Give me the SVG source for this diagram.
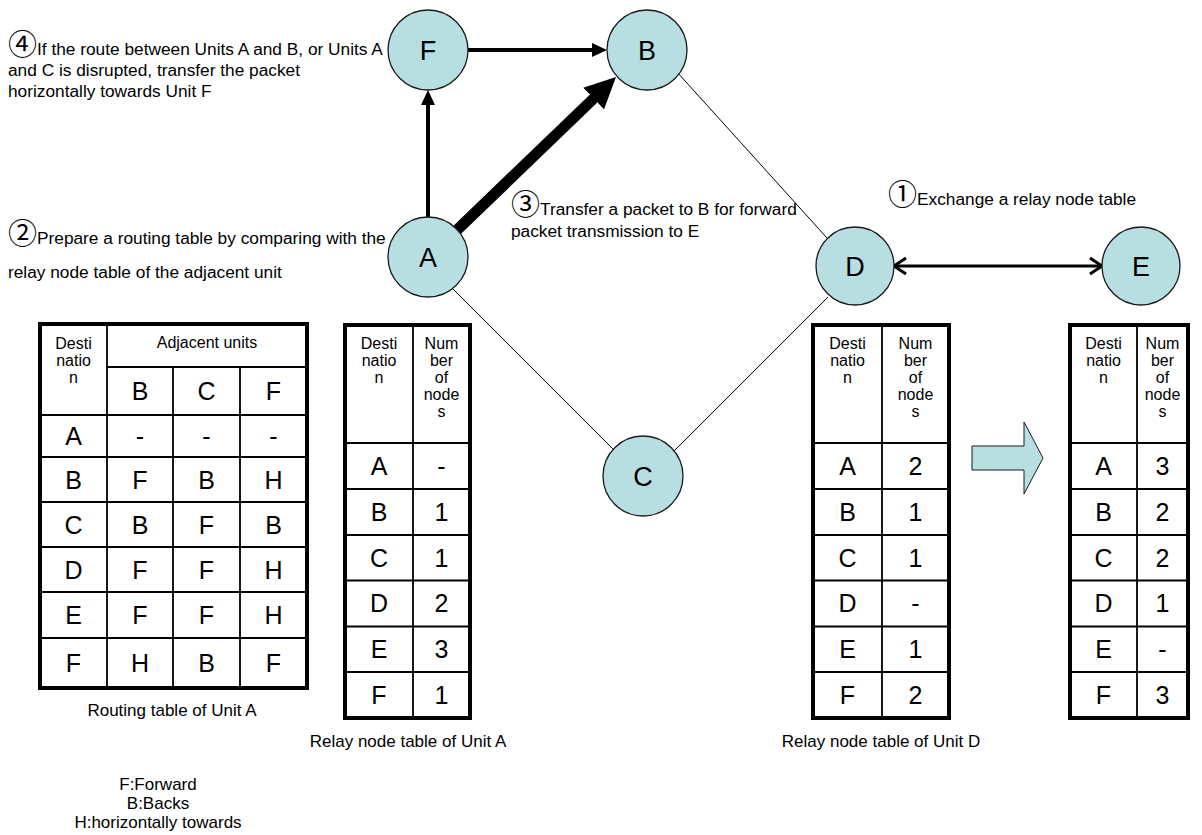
<svg xmlns="http://www.w3.org/2000/svg" width="1202" height="835" viewBox="0 0 1202 835">
<style>
text{font-family:"Liberation Sans",Arial,sans-serif;fill:#000}
.note{font-size:17.3px}
.circ{font-family:"Noto Sans CJK JP","DejaVu Sans",sans-serif;font-size:29px}
.node circle{fill:#b7dfe1;stroke:#1a1a1a;stroke-width:1.3}
.nl{font-size:27px;text-anchor:middle}
.outer{fill:#fff;stroke:#000;stroke-width:4}
.ln{stroke:#000;stroke-width:1.8;fill:none}
.th{font-size:16px;text-anchor:middle}
.tv{font-size:25px;text-anchor:middle}
.cap{font-size:17px;text-anchor:middle}
.thin{stroke:#000;stroke-width:1;fill:none}
.arr{stroke:#000;stroke-width:4;fill:none}
</style>
<defs>
<marker id="ah" markerUnits="userSpaceOnUse" markerWidth="16" markerHeight="14" viewBox="0 0 16 14" refX="2" refY="7" orient="auto"><path d="M0,0 L15,7 L0,14 z" fill="#000"/></marker>
<marker id="ahBig" markerUnits="userSpaceOnUse" markerWidth="32" markerHeight="30" viewBox="0 0 32 30" refX="2" refY="15" orient="auto"><path d="M0,0 L31,15 L0,30 z" fill="#000"/></marker>
<marker id="chev" markerUnits="userSpaceOnUse" markerWidth="16" markerHeight="20" viewBox="0 0 16 20" refX="13" refY="10" orient="auto-start-reverse"><path d="M1,2 L13,10 L1,18" fill="none" stroke="#000" stroke-width="3"/></marker>
</defs>

<g id="notes">
<text class="note" x="8" y="55"><tspan class="circ">④</tspan><tspan x="37">If the route between Units A and B, or Units A</tspan></text>
<text class="note" x="8" y="76">and C is disrupted, transfer the packet</text>
<text class="note" x="8" y="97">horizontally towards Unit F</text>
<text class="note" x="8" y="244"><tspan class="circ">②</tspan><tspan x="37">Prepare a routing table by comparing with the</tspan></text>
<text class="note" x="8" y="278">relay node table of the adjacent unit</text>
<text class="note" x="511" y="215"><tspan class="circ">③</tspan><tspan x="540">Transfer a packet to B for forward</tspan></text>
<text class="note" x="511" y="237">packet transmission to E</text>
<text class="note" x="888" y="205"><tspan class="circ">①</tspan><tspan x="917">Exchange a relay node table</tspan></text>
</g>

<g id="connectors">
<line class="thin" x1="677" y1="72" x2="827" y2="238"/>
<line class="thin" x1="453" y1="289" x2="613" y2="449"/>
<line class="thin" x1="672" y1="453" x2="828" y2="297"/>
<line class="arr" x1="468" y1="50" x2="594" y2="50" marker-end="url(#ah)"/>
<line class="arr" x1="428" y1="217" x2="428" y2="103" marker-end="url(#ah)"/>
<line stroke="#000" stroke-width="11" x1="457" y1="230" x2="595.1" y2="97.1" marker-end="url(#ahBig)"/>
<line stroke="#000" stroke-width="3" x1="894" y1="266" x2="1102" y2="266" marker-start="url(#chev)" marker-end="url(#chev)"/>
</g>

<g id="node-F" class="node"><circle cx="428" cy="50" r="40"/><text class="nl" x="428" y="60">F</text></g>
<g id="node-B" class="node"><circle cx="647" cy="50" r="40"/><text class="nl" x="647" y="60">B</text></g>
<g id="node-A" class="node"><circle cx="428" cy="257" r="40"/><text class="nl" x="428" y="267">A</text></g>
<g id="node-C" class="node"><circle cx="643" cy="476" r="40"/><text class="nl" x="643" y="486">C</text></g>
<g id="node-D" class="node"><circle cx="855" cy="266" r="39"/><text class="nl" x="855" y="276">D</text></g>
<g id="node-E" class="node"><circle cx="1141" cy="266" r="39"/><text class="nl" x="1141" y="276">E</text></g>

<g id="routing-table">
<rect class="outer" x="40" y="324" width="267" height="364"/>
<path class="ln" d="M107,324V688 M173,367V688 M240,367V688 M107,367H307 M40,415H307 M40,457H307 M40,502H307 M40,547H307 M40,592H307 M40,638H307"/>
<text class="th" x="73.5" y="349">Desti</text>
<text class="th" x="73.5" y="366">natio</text>
<text class="th" x="73.5" y="383">n</text>
<text class="th" x="207" y="348">Adjacent units</text>
<text class="tv" x="140" y="400">B</text><text class="tv" x="206.5" y="400">C</text><text class="tv" x="273.5" y="400">F</text>
<text class="tv" x="73.5" y="445">A</text><text class="tv" x="140" y="445">-</text><text class="tv" x="206.5" y="445">-</text><text class="tv" x="273.5" y="445">-</text>
<text class="tv" x="73.5" y="489">B</text><text class="tv" x="140" y="489">F</text><text class="tv" x="206.5" y="489">B</text><text class="tv" x="273.5" y="489">H</text>
<text class="tv" x="73.5" y="534">C</text><text class="tv" x="140" y="534">B</text><text class="tv" x="206.5" y="534">F</text><text class="tv" x="273.5" y="534">B</text>
<text class="tv" x="73.5" y="579">D</text><text class="tv" x="140" y="579">F</text><text class="tv" x="206.5" y="579">F</text><text class="tv" x="273.5" y="579">H</text>
<text class="tv" x="73.5" y="624">E</text><text class="tv" x="140" y="624">F</text><text class="tv" x="206.5" y="624">F</text><text class="tv" x="273.5" y="624">H</text>
<text class="tv" x="73.5" y="672">F</text><text class="tv" x="140" y="672">H</text><text class="tv" x="206.5" y="672">B</text><text class="tv" x="273.5" y="672">F</text>
<text class="cap" x="172" y="716">Routing table of Unit A</text>
</g>

<g id="relay-table-A">
<rect class="outer" x="345" y="325" width="125" height="393"/>
<path class="ln" d="M413,325V718 M345,443H470 M345,489H470 M345,535H470 M345,580.5H470 M345,626.5H470 M345,672H470"/>
<text class="th" x="379" y="349">Desti</text><text class="th" x="379" y="366">natio</text><text class="th" x="379" y="383">n</text>
<text class="th" x="441.5" y="349">Num</text><text class="th" x="441.5" y="366">ber</text><text class="th" x="441.5" y="383">of</text><text class="th" x="441.5" y="400">node</text><text class="th" x="441.5" y="417">s</text>
<text class="tv" x="379" y="475">A</text><text class="tv" x="441.5" y="475">-</text>
<text class="tv" x="379" y="521">B</text><text class="tv" x="441.5" y="521">1</text>
<text class="tv" x="379" y="567">C</text><text class="tv" x="441.5" y="567">1</text>
<text class="tv" x="379" y="612">D</text><text class="tv" x="441.5" y="612">2</text>
<text class="tv" x="379" y="658">E</text><text class="tv" x="441.5" y="658">3</text>
<text class="tv" x="379" y="704">F</text><text class="tv" x="441.5" y="704">1</text>
<text class="cap" x="408" y="747">Relay node table of Unit A</text>
</g>

<g id="relay-table-D">
<rect class="outer" x="813" y="325" width="136" height="393"/>
<path class="ln" d="M882,325V718 M813,443H949 M813,489H949 M813,535H949 M813,580.5H949 M813,626.5H949 M813,672H949"/>
<text class="th" x="847.5" y="349">Desti</text><text class="th" x="847.5" y="366">natio</text><text class="th" x="847.5" y="383">n</text>
<text class="th" x="915.5" y="349">Num</text><text class="th" x="915.5" y="366">ber</text><text class="th" x="915.5" y="383">of</text><text class="th" x="915.5" y="400">node</text><text class="th" x="915.5" y="417">s</text>
<text class="tv" x="847.5" y="475">A</text><text class="tv" x="915.5" y="475">2</text>
<text class="tv" x="847.5" y="521">B</text><text class="tv" x="915.5" y="521">1</text>
<text class="tv" x="847.5" y="567">C</text><text class="tv" x="915.5" y="567">1</text>
<text class="tv" x="847.5" y="612">D</text><text class="tv" x="915.5" y="612">-</text>
<text class="tv" x="847.5" y="658">E</text><text class="tv" x="915.5" y="658">1</text>
<text class="tv" x="847.5" y="704">F</text><text class="tv" x="915.5" y="704">2</text>
<text class="cap" x="881" y="747">Relay node table of Unit D</text>
</g>

<g id="update-arrow">
<polygon points="972,446 1024,446 1024,422 1043,458 1024,494 1024,470 972,470" fill="#b7dfe1" stroke="#1a1a1a" stroke-width="1"/>
</g>

<g id="relay-table-E">
<rect class="outer" x="1070" y="325" width="118" height="393"/>
<path class="ln" d="M1137,325V718 M1070,443H1188 M1070,489H1188 M1070,535H1188 M1070,580.5H1188 M1070,626.5H1188 M1070,672H1188"/>
<text class="th" x="1103.5" y="349">Desti</text><text class="th" x="1103.5" y="366">natio</text><text class="th" x="1103.5" y="383">n</text>
<text class="th" x="1162.5" y="349">Num</text><text class="th" x="1162.5" y="366">ber</text><text class="th" x="1162.5" y="383">of</text><text class="th" x="1162.5" y="400">node</text><text class="th" x="1162.5" y="417">s</text>
<text class="tv" x="1103.5" y="475">A</text><text class="tv" x="1162.5" y="475">3</text>
<text class="tv" x="1103.5" y="521">B</text><text class="tv" x="1162.5" y="521">2</text>
<text class="tv" x="1103.5" y="567">C</text><text class="tv" x="1162.5" y="567">2</text>
<text class="tv" x="1103.5" y="612">D</text><text class="tv" x="1162.5" y="612">1</text>
<text class="tv" x="1103.5" y="658">E</text><text class="tv" x="1162.5" y="658">-</text>
<text class="tv" x="1103.5" y="704">F</text><text class="tv" x="1162.5" y="704">3</text>
</g>

<g id="legend">
<text class="cap" x="158" y="790">F:Forward</text>
<text class="cap" x="158" y="809">B:Backs</text>
<text class="cap" x="158" y="828">H:horizontally towards</text>
</g>
</svg>
